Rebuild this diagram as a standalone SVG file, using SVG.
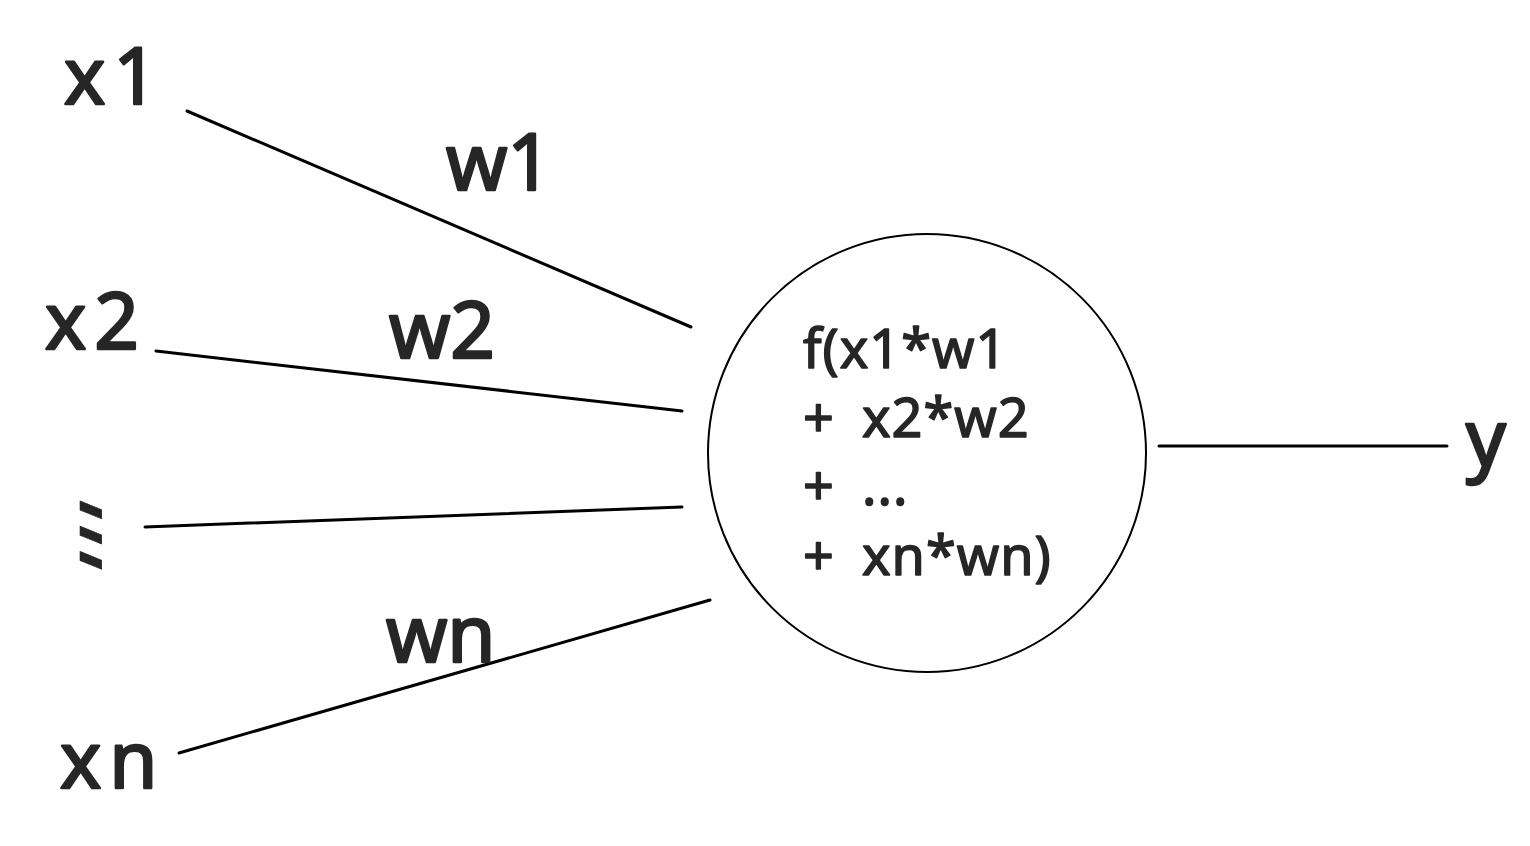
<svg xmlns="http://www.w3.org/2000/svg" width="1530" height="846" viewBox="0 0 1530 846">
<style>
.lbl{font-family:"Noto Sans","Open Sans",sans-serif;fill:#262626;stroke:#262626;stroke-linejoin:round;}
.big{font-size:78px;stroke-width:2.5;}
.xs{letter-spacing:8px;}
.inner{font-size:54px;stroke-width:1.5;letter-spacing:1px;}
.wire{stroke:#000;stroke-width:3;fill:none;stroke-linecap:round;}
</style>
<rect width="1530" height="846" fill="#fff"/>
<g id="connectors">
<line class="wire" x1="187" y1="111" x2="691" y2="327"/>
<line class="wire" x1="156" y1="351" x2="682" y2="411"/>
<line class="wire" x1="145" y1="527" x2="682" y2="507"/>
<line class="wire" x1="179" y1="753" x2="710" y2="600"/>
<line class="wire" x1="1159" y1="446" x2="1447" y2="446"/>
</g>
<g id="x1"><text class="lbl big xs" x="64" y="104">x1</text></g>
<g id="x2"><text class="lbl big xs" x="45" y="349">x2</text></g>
<g id="dots"><text font-family="DejaVu Sans" font-size="74" fill="#262626" stroke="#262626" stroke-width="0.6" text-anchor="middle" transform="translate(91,558) skewY(22) scale(2.7,1)">⋮</text></g>
<g id="xn"><text class="lbl big xs" x="60" y="788">xn</text></g>
<g id="w1"><text class="lbl big" x="446" y="190">w1</text></g>
<g id="w2"><text class="lbl big" x="389" y="358">w2</text></g>
<g id="wn"><text class="lbl big" x="386" y="662">wn</text></g>
<g id="neuron">
<circle cx="927" cy="453" r="219" fill="#fff" stroke="#000" stroke-width="2"/>
<text class="lbl inner" x="803" y="368">f(x1*w1</text>
<text class="lbl inner" x="803" y="437">+</text><text class="lbl inner" x="862" y="437">x2*w2</text>
<text class="lbl inner" x="803" y="505">+</text><text class="lbl inner" x="862" y="505">...</text>
<text class="lbl inner" x="803" y="575">+</text><text class="lbl inner" x="862" y="575">xn*wn)</text>
</g>
<g id="y"><text class="lbl big" x="1466" y="466">y</text></g>
</svg>
